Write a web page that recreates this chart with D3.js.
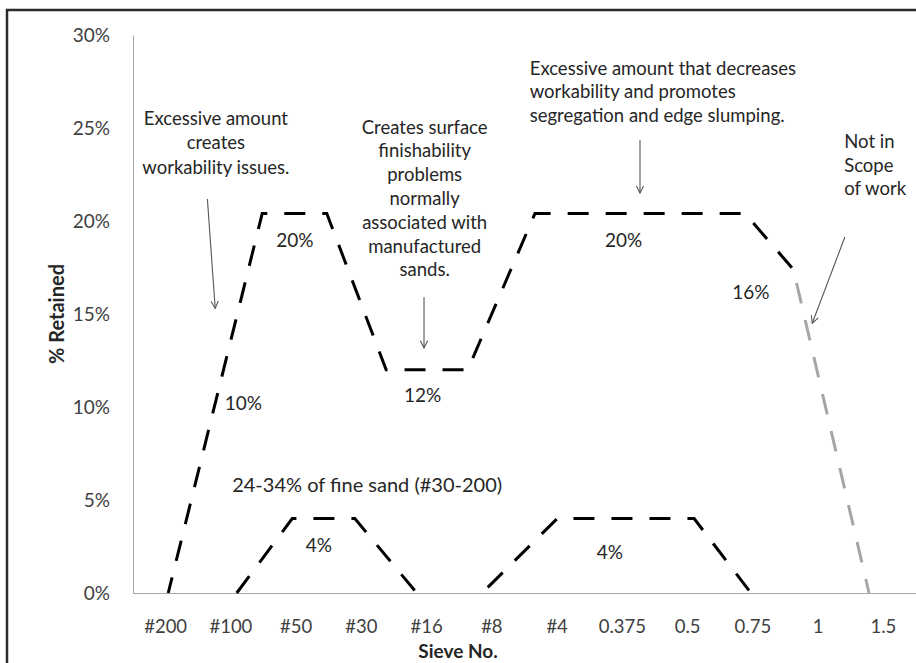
<!DOCTYPE html>
<html><head><meta charset="utf-8">
<script src="https://cdn.jsdelivr.net/npm/d3@7"></script>
<style>
html,body{margin:0;padding:0;background:#fff;}
svg text{font-family:Lato,"Open Sans",sans-serif;}
</style></head>
<body><svg id="c" width="916" height="663"></svg>
<script>
// ---- data ----
const categories = ["#200","#100","#50","#30","#16","#8","#4","0.375","0.5","0.75","1","1.5"];
const yTicks = [0,5,10,15,20,25,30];
// positions measured in sieve-category units (0 = #200 ... 11 = 1.5), values in % retained
const upperPos = [0.04, 1.48, 2.47, 3.38, 4.63, 5.66, 8.88, 9.62];
const upperVal = [0, 20.4, 20.4, 12, 12, 20.4, 20.4, 17.4];
const outPos = [9.62, 10.78];
const outVal = [17.4, 0];
const lowA_Pos = [1.09, 1.94, 2.90, 3.85];
const lowA_Val = [0, 4, 4, 0];
const lowB_Pos = [4.85, 6.0, 8.10, 8.97];
const lowB_Val = [0, 4, 4, 0];

const svg = d3.select("#c");
const W = 916, H = 663;
const plot = {left:133, right:916, top:35, bottom:593};

const xb = d3.scaleBand().domain(categories).range([plot.left, plot.right]).padding(0);
const x = d3.scaleLinear().domain([-0.5, categories.length-0.5]).range([plot.left, plot.right]);
const y = d3.scaleLinear().domain([0,30]).range([plot.bottom, plot.top]);

// frame (top & left edges visible)
svg.append("path").attr("d", `M7,${H} L7,10 L${W},10`).attr("fill","none").attr("stroke","#2b2b2b").attr("stroke-width",2.5);

// axes
const yAxis = d3.axisLeft(y).tickValues(yTicks).tickFormat(d=>d+"%").tickSize(0).tickPadding(23);
const gy = svg.append("g").attr("transform",`translate(${plot.left},0)`).call(yAxis);
gy.select(".domain").attr("stroke","#a6a6a6");
gy.selectAll("text").attr("font-size",19).attr("fill","#404040").attr("dy","0.35em");

const xAxis = d3.axisBottom(xb).tickSize(0);
const gx = svg.append("g").attr("transform",`translate(0,${plot.bottom})`).call(xAxis);
gx.select(".domain").attr("stroke","#a6a6a6").attr("d",`M${plot.left},0.5H${plot.right}`);
gx.selectAll("text").attr("font-size",18.5).attr("fill","#404040").attr("y",34).attr("dy","0.35em");

// axis titles
svg.append("text").attr("transform",`translate(57,314) rotate(-90)`).attr("text-anchor","middle")
  .attr("font-size",20).attr("font-weight","bold").attr("fill","#262626").attr("dy","0.35em").text("% Retained");
svg.append("text").attr("x",458).attr("y",651).attr("text-anchor","middle").attr("dy","0.35em")
  .attr("font-size",19).attr("font-weight","bold").attr("fill","#262626").text("Sieve No.");

// lines
const line = d3.line().x(d=>x(d[0])).y(d=>y(d[1]));
function drawLine(pos, val, color, offset){
  svg.append("path").datum(pos.map((p,i)=>[p,val[i]])).attr("d",line)
    .attr("fill","none").attr("stroke",color).attr("stroke-width",3)
    .attr("stroke-dasharray","21,17").attr("stroke-dashoffset",offset||0);
}
drawLine(upperPos, upperVal, "#000", 5);
drawLine(outPos, outVal, "#a6a6a6", 24);
drawLine(lowA_Pos, lowA_Val, "#000", 0);
drawLine(lowB_Pos, lowB_Val, "#000", 30);

// arrows
const defs = svg.append("defs");
defs.append("marker").attr("id","ah").attr("viewBox","0 0 10 10").attr("refX",9).attr("refY",5)
  .attr("markerWidth",9).attr("markerHeight",9).attr("markerUnits","userSpaceOnUse").attr("orient","auto")
  .append("path").attr("d","M1,1 L9,5 L1,9").attr("fill","none").attr("stroke","#555").attr("stroke-width",1.2);
function arrow(x1,y1,x2,y2){
  svg.append("line").attr("x1",x(x1)).attr("y1",y(y1)).attr("x2",x(x2)).attr("y2",y(y2))
    .attr("stroke","#555").attr("stroke-width",1.1).attr("marker-end","url(#ah)");
}
arrow(0.64,21.18,0.76,15.3);
arrow(3.96,15.9,3.96,13.17);
arrow(7.27,24.35,7.27,21.5);
arrow(10.41,19.14,9.91,14.5);

// annotation text
function block(lines, xi, yv, anchor, step, size){
  const t = svg.append("text").attr("text-anchor",anchor).attr("font-size",size).attr("fill","#262626");
  lines.forEach((s,i)=>{
    t.append("tspan").attr("x",x(xi)).attr("y",y(yv)+i*step).attr("dy","0.35em").text(s);
  });
}
block(["Excessive amount","creates","workability issues."], 0.77, 25.5, "middle", 24.3, 18.5);
block(["Creates surface","finishability","problems","normally","associated with","manufactured","sands."], 3.97, 25.05, "middle", 23.8, 18.5);
block(["Excessive amount that decreases","workability and promotes","segregation and edge slumping."], 5.58, 28.2, "start", 23.5, 18.5);
block(["Not in","Scope","of work"], 10.40, 24.25, "start", 23.5, 18.5);
block(["24-34% of fine sand (#30-200)"], 1.02, 5.8, "start", 0, 20);

// value labels
const valueLabels = [["20%",1.98,18.98],["10%",1.19,10.2],["12%",3.94,10.6],["4%",2.35,2.58],
                     ["20%",7.02,18.98],["16%",8.97,16.18],["4%",6.81,2.2]];
svg.selectAll("text.vl").data(valueLabels).join("text").attr("class","vl")
  .attr("x",d=>x(d[1])).attr("y",d=>y(d[2])).attr("dy","0.35em").attr("text-anchor","middle")
  .attr("font-size",19).attr("fill","#262626").text(d=>d[0]);
</script></body></html>
